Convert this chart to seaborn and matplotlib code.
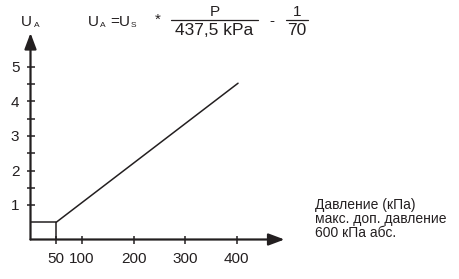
import matplotlib
matplotlib.use("Agg")
import matplotlib.pyplot as plt
import seaborn as sns
import pandas as pd

# ---- data ----
line_p = [50, 403]          # pressure, kPa
line_u = [0.5, 4.53]        # output voltage U_A
box_p = [0, 50, 50]
box_u = [0.5, 0.5, 0]
x_ticks = [50, 100, 200, 300, 400]
x_tick_labels = ["50", "100", "200", "300", "400"]
y_major = [1, 2, 3, 4, 5]
y_minor = [1.5, 2.5, 3.5, 4.5]
legend_lines = ["Давление (кПа)", "макс. доп. давление", "600 кПа абс."]

sns.set_style("white")
plt.rcParams["font.family"] = ["Liberation Sans", "DejaVu Sans"]

INK = "#231f20"
W, H = 460, 279
fig = plt.figure(figsize=(W / 100, H / 100), dpi=100)

x0, y0 = 30.5, 239.5
sx, sy = 0.515, 34.5
right_px, top_px = 284.5, 33.0
ax = fig.add_axes([x0 / W, (H - y0) / H, (right_px - x0) / W, (y0 - top_px) / H])
ax.set_xlim(0, (right_px - x0) / sx)
ax.set_ylim(0, (y0 - top_px) / sy)
ax.patch.set_alpha(0)
for s in ax.spines.values():
    s.set_visible(False)

df_line = pd.DataFrame({"p": line_p, "u": line_u})
df_box = pd.DataFrame({"p": box_p, "u": box_u})
sns.lineplot(data=df_line, x="p", y="u", ax=ax, color=INK, lw=1.1,
             sort=False, estimator=None)
sns.lineplot(data=df_box, x="p", y="u", ax=ax, color=INK, lw=1.1,
             sort=False, estimator=None)

xmax = ax.get_xlim()[1]
ymax = ax.get_ylim()[1]
arrow = dict(arrowstyle="-|>,head_length=0.8,head_width=0.3", lw=1.6, color=INK,
             shrinkA=0, shrinkB=0, mutation_scale=12)
ax.annotate("", xy=(xmax, 0), xytext=(0, 0), xycoords="data", arrowprops=arrow,
            annotation_clip=False)
ax.annotate("", xy=(0, ymax), xytext=(0, 0), xycoords="data", arrowprops=arrow,
            annotation_clip=False)

ax.set_xticks(x_ticks)
ax.set_xticklabels(x_tick_labels)
ax.set_yticks(y_major)
ax.set_yticklabels([str(v) for v in y_major])
ax.set_yticks(y_minor, minor=True)
ax.tick_params(axis="both", which="both", direction="inout", color=INK,
               width=1.1, labelcolor=INK, labelsize=11,
               bottom=True, left=True, top=False, right=False)
ax.tick_params(axis="both", which="both", length=6)
ax.tick_params(axis="x", pad=6)
ax.tick_params(axis="y", pad=5)
ax.set_xlabel("")
ax.set_ylabel("")


def ftext(px, py, s, size, **kw):
    fig.text(px / W, 1 - py / H, s, fontsize=size, color=INK, **kw)


# axis label U_A
ftext(21, 26, "U", 11, ha="left", va="baseline")
ftext(33.5, 27, "A", 6, ha="left", va="baseline")

# formula
ftext(88, 26, "U", 11, ha="left", va="baseline")
ftext(100, 27, "A", 6, ha="left", va="baseline")
ftext(110, 26, "=", 11, ha="left", va="baseline")
ftext(119, 26, "U", 11, ha="left", va="baseline")
ftext(131, 27, "S", 6, ha="left", va="baseline")
ftext(158, 24, "*", 11, ha="center", va="baseline")
ftext(215, 16, "P", 11, ha="center", va="baseline")
fig.add_artist(plt.Line2D([171 / W, 258 / W], [1 - 19.5 / H, 1 - 19.5 / H], color=INK, lw=0.9))
ftext(214.5, 35, "437,5 kPa", 12.5, ha="center", va="baseline")
ftext(272, 25, "-", 11, ha="center", va="baseline")
ftext(297, 16, "1", 11, ha="center", va="baseline")
fig.add_artist(plt.Line2D([286 / W, 308 / W], [1 - 19.5 / H, 1 - 19.5 / H], color=INK, lw=0.9))
ftext(297, 35, "70", 12.5, ha="center", va="baseline")

# right-hand caption
for i, s in enumerate(legend_lines):
    ftext(315, 209 + i * 14, s, 10, ha="left", va="baseline")

fig.savefig("out.png", dpi=100)
